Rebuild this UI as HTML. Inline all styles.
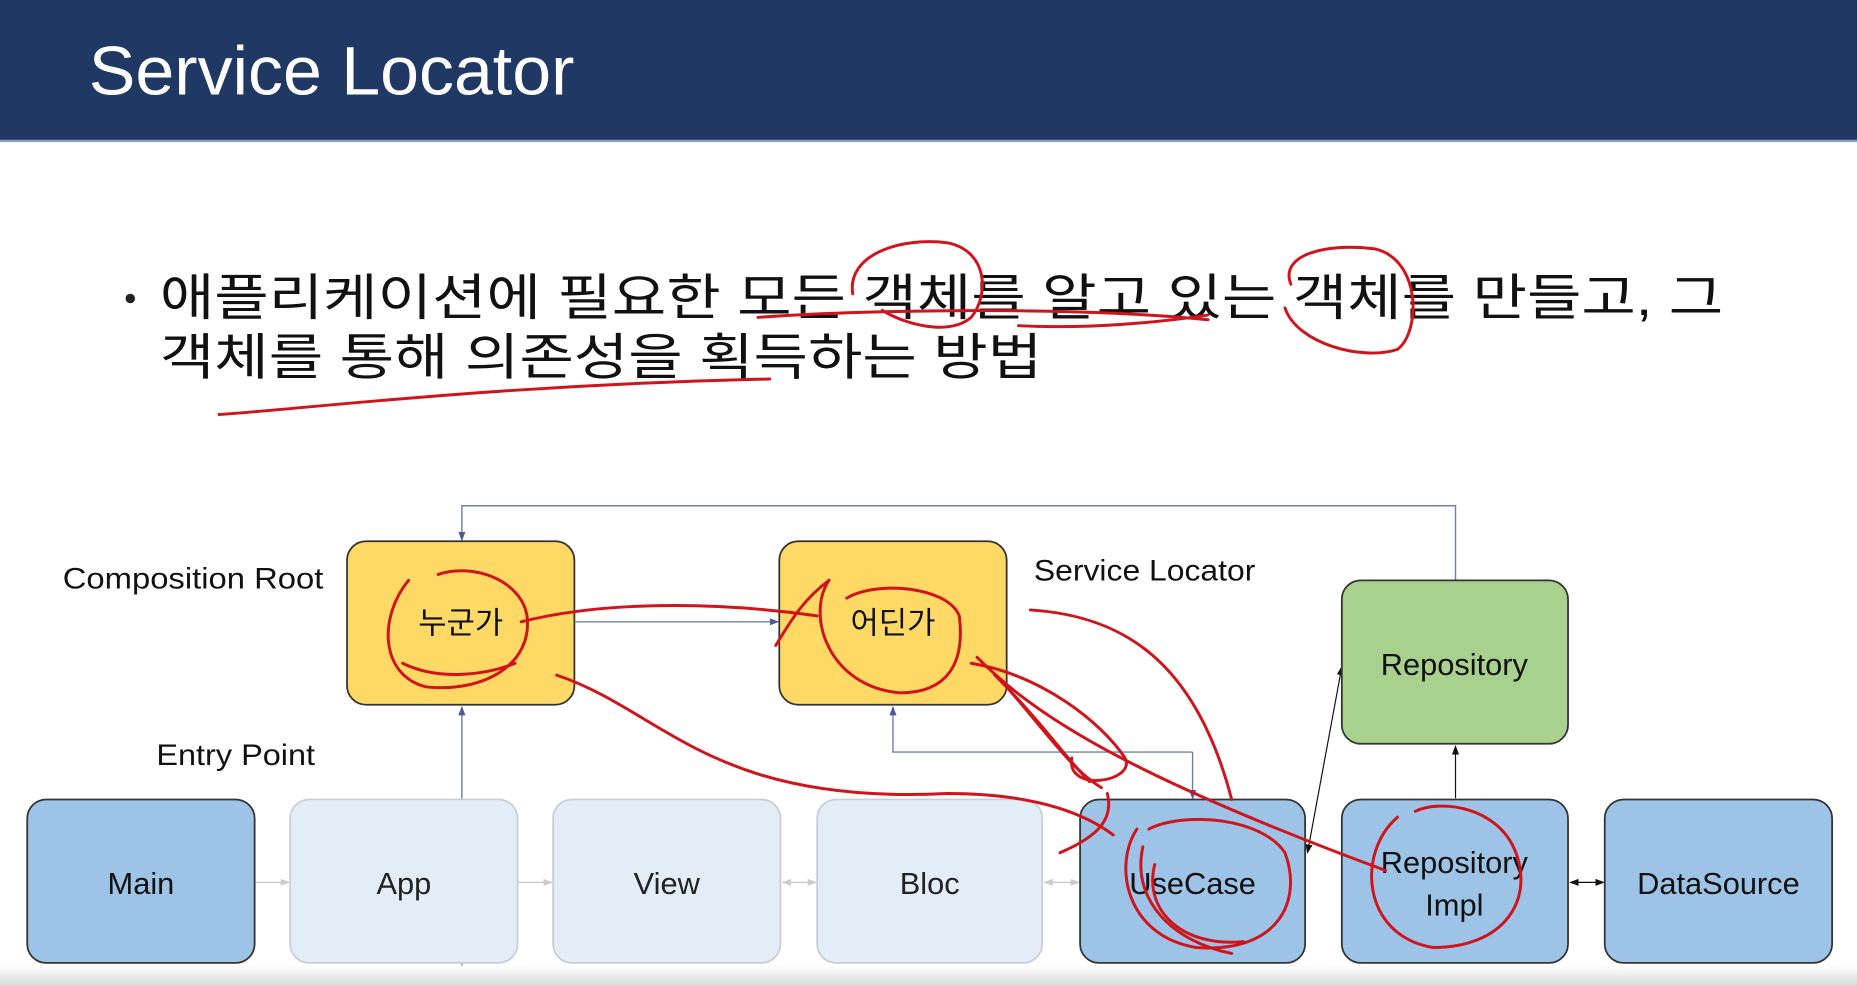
<!DOCTYPE html>
<html><head><meta charset="utf-8">
<style>
html,body{margin:0;padding:0;background:#fff;width:1857px;height:986px;overflow:hidden}
svg{display:block}
text{font-family:"Liberation Sans","Noto Sans CJK KR",sans-serif}
</style></head><body>
<svg width="1857" height="986" viewBox="0 0 1568 832.5" preserveAspectRatio="none" xmlns="http://www.w3.org/2000/svg">
<defs>
<marker id="a" markerWidth="8" markerHeight="8" refX="7" refY="4" orient="auto" markerUnits="userSpaceOnUse"><path d="M0,1 L8,4 L0,7 z" fill="#4a5a9a"/></marker>
<marker id="b" markerWidth="8" markerHeight="8" refX="7" refY="4" orient="auto" markerUnits="userSpaceOnUse"><path d="M0,1 L8,4 L0,7 z" fill="#111"/></marker>
<marker id="bs" markerWidth="8" markerHeight="8" refX="1" refY="4" orient="auto" markerUnits="userSpaceOnUse"><path d="M8,1 L0,4 L8,7 z" fill="#111"/></marker>
<marker id="g" markerWidth="8" markerHeight="8" refX="7" refY="4" orient="auto" markerUnits="userSpaceOnUse"><path d="M0,1 L8,4 L0,7 z" fill="#ccc"/></marker>
<marker id="gs" markerWidth="8" markerHeight="8" refX="1" refY="4" orient="auto" markerUnits="userSpaceOnUse"><path d="M8,1 L0,4 L8,7 z" fill="#ccc"/></marker>
<linearGradient id="bot" x1="0" y1="0" x2="0" y2="1"><stop offset="0" stop-color="#fff"/><stop offset="1" stop-color="#d8d8d8"/></linearGradient>
</defs>
<rect x="0" y="0" width="1568" height="119" fill="#1f3864"/>
<rect x="0" y="118" width="1568" height="2" fill="#8d9fc0"/>
<text x="75" y="80" font-size="58" fill="#fff" textLength="410" lengthAdjust="spacingAndGlyphs">Service Locator</text>

<circle cx="110" cy="252" r="4" fill="#222"/>
<text x="135" y="266" font-size="42" fill="#111" textLength="1320" lengthAdjust="spacingAndGlyphs">애플리케이션에 필요한 모든 객체를 알고 있는 객체를 만들고, 그</text>
<text x="135" y="316" font-size="42" fill="#111" textLength="745" lengthAdjust="spacingAndGlyphs">객체를 통해 의존성을 획득하는 방법</text>

<g stroke="#7080b0" stroke-width="1.2" fill="none">
<path d="M1229 490 V427 H390 V456" marker-end="url(#a)"/>
<path d="M390 833 V597" marker-end="url(#a)"/>
<path d="M486 525 H657" marker-end="url(#a)"/>
<path d="M1007 635 H754 V597" marker-end="url(#a)"/>
<path d="M1007 635 V674" marker-end="url(#a)"/>
</g>
<g stroke="#111" stroke-width="1" fill="none">
<path d="M1229 674 V630" marker-end="url(#b)"/>
<path d="M1104 720 L1133 563" marker-end="url(#b)" marker-start="url(#bs)"/>
<path d="M1326 745 H1354" marker-end="url(#b)" marker-start="url(#bs)"/>
</g>
<g stroke="#ccc" stroke-width="1.2" fill="none">
<path d="M216 745 H244" marker-end="url(#g)"/>
<path d="M438 745 H466" marker-end="url(#g)"/>
<path d="M661 745 H689" marker-end="url(#g)" marker-start="url(#gs)"/>
<path d="M882 745 H911" marker-end="url(#g)" marker-start="url(#gs)"/>
</g>

<g stroke-width="1.5">
<rect x="293" y="457" width="192" height="138" rx="16" fill="#ffd966" stroke="#333"/>
<rect x="658" y="457" width="192" height="138" rx="16" fill="#ffd966" stroke="#333"/>
<rect x="1133" y="490" width="191" height="138" rx="16" fill="#a9d18e" stroke="#333"/>
<rect x="23" y="675" width="192" height="138" rx="16" fill="#9dc3e6" stroke="#333"/>
<rect x="245" y="675" width="192" height="138" rx="16" fill="#e3edf8" stroke="#c8ced6"/>
<rect x="467" y="675" width="192" height="138" rx="16" fill="#e3edf8" stroke="#c8ced6"/>
<rect x="690" y="675" width="190" height="138" rx="16" fill="#e3edf8" stroke="#c8ced6"/>
<rect x="912" y="675" width="190" height="138" rx="16" fill="#9dc3e6" stroke="#333"/>
<rect x="1133" y="675" width="191" height="138" rx="16" fill="#9dc3e6" stroke="#333"/>
<rect x="1355" y="675" width="192" height="138" rx="16" fill="#9dc3e6" stroke="#333"/>
</g>
<g font-size="26" fill="#111" text-anchor="middle">
<text x="389" y="535">누군가</text>
<text x="754" y="535">어딘가</text>
<text x="1228" y="570">Repository</text>
<text x="119" y="755">Main</text>
<text x="341" y="755" fill="#222">App</text>
<text x="563" y="755" fill="#222">View</text>
<text x="785" y="755" fill="#222">Bloc</text>
<text x="1007" y="755">UseCase</text>
<text x="1228" y="737">Repository</text>
<text x="1228" y="773">Impl</text>
<text x="1451" y="755">DataSource</text>
</g>
<g font-size="25" fill="#111">
<text x="53" y="497" textLength="220" lengthAdjust="spacingAndGlyphs">Composition Root</text>
<text x="873" y="490" textLength="187" lengthAdjust="spacingAndGlyphs">Service Locator</text>
<text x="132" y="646" textLength="134" lengthAdjust="spacingAndGlyphs">Entry Point</text>
</g>

<g stroke="#d0141c" stroke-width="2.5" fill="none" stroke-linecap="round">
<path d="M640 268 C720 262 900 258 1020 270"/>
<path d="M860 275 C920 278 980 272 1020 266"/>
<path d="M720 248 C715 215 760 200 800 205 C835 212 835 250 820 268 C800 285 760 272 745 262"/>
<path d="M1090 240 C1080 215 1120 205 1160 210 C1200 218 1200 280 1180 295 C1150 305 1095 290 1085 260"/>
<path d="M185 350 C260 345 420 325 650 320"/>
<path d="M345 490 C320 520 320 570 360 580 C410 585 450 560 445 520 C440 490 400 475 370 485"/>
<path d="M340 560 C370 575 410 570 435 560"/>
<path d="M440 525 C520 505 620 510 690 520"/>
<path d="M700 490 C680 520 700 580 760 585 C800 585 815 560 810 520 C800 495 740 490 715 505"/>
<path d="M655 545 C670 520 680 505 700 490"/>
<path d="M470 570 C560 600 600 680 800 670 C880 670 920 690 940 705"/>
<path d="M895 720 C930 705 940 690 935 670"/>
<path d="M870 515 C950 520 1010 560 1040 675"/>
<path d="M820 560 C880 570 930 610 950 640 C960 660 900 670 905 640"/>
<path d="M825 555 C870 600 940 650 1170 735"/>
<path d="M840 570 C880 610 900 640 920 660"/>
<path d="M850 580 C885 620 905 650 930 665"/>
<path d="M960 700 C940 730 950 790 1010 800 C1080 805 1100 760 1085 720 C1065 690 1000 685 970 700"/>
<path d="M975 730 C965 770 1000 800 1050 795"/>
<path d="M965 715 C955 760 990 795 1040 805"/>
<path d="M1180 690 C1145 720 1150 790 1210 800 C1270 800 1295 760 1280 720 C1265 680 1215 675 1195 685"/>
</g>
<rect x="0" y="815" width="1568" height="18" fill="url(#bot)"/>
</svg>
</body></html>
